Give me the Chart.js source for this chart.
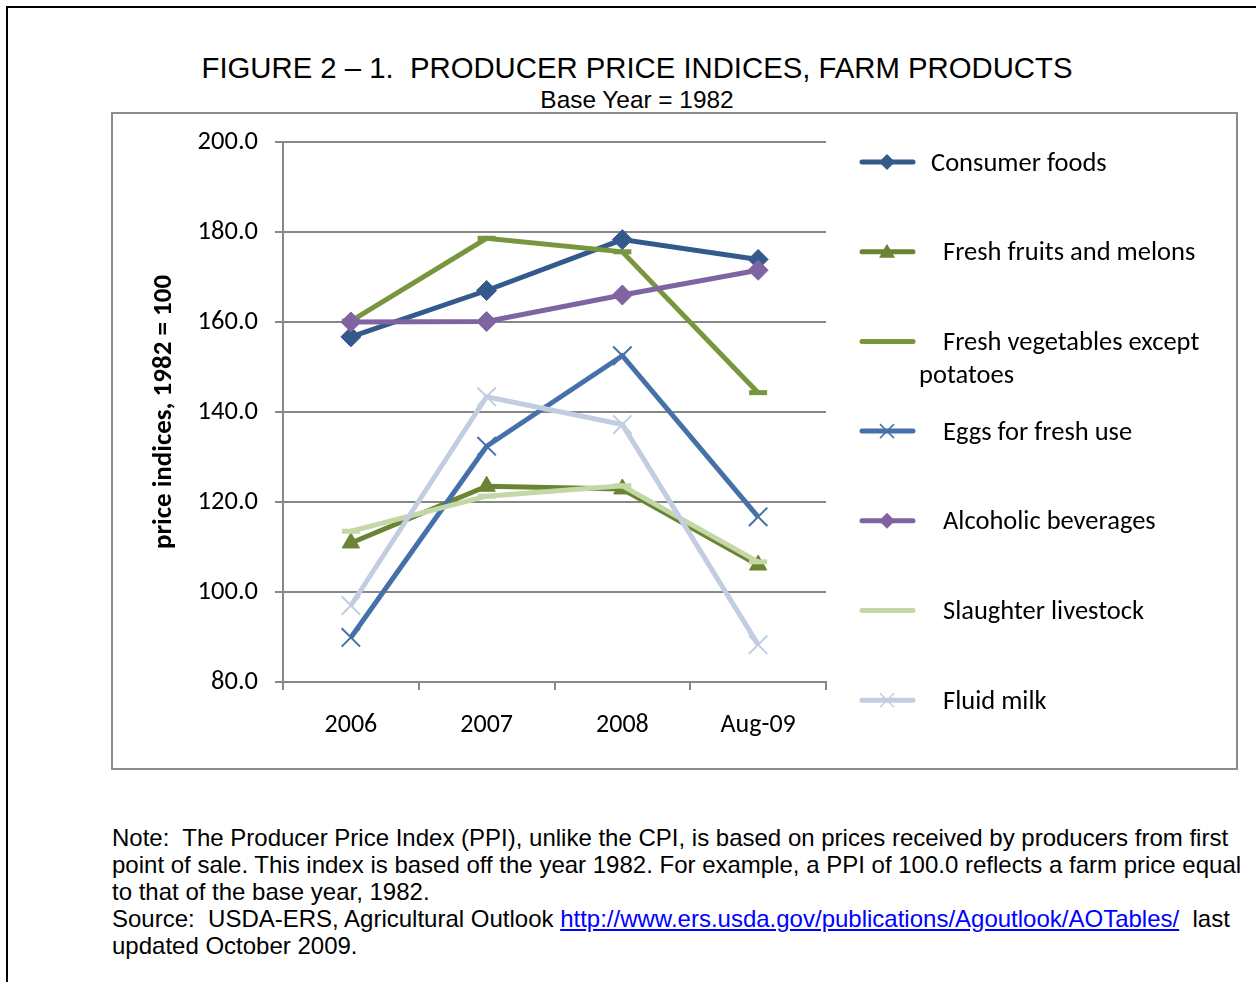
<!DOCTYPE html>
<html>
<head>
<meta charset="utf-8">
<script src="https://cdn.jsdelivr.net/npm/chart.js@4.4.1/dist/chart.umd.min.js"></script>
<style>
  html, body { margin: 0; padding: 0; background: #fff; width: 1256px; height: 982px; overflow: hidden; }
  body { position: relative; font-family: "Liberation Sans", Arial, sans-serif; color: #000; }
  #frame { position: absolute; left: 6px; top: 6px; width: 1300px; height: 1100px; border: 2px solid #000; }
  #title { position: absolute; left: 0; width: 1274px; top: 51px; text-align: center; font-size: 29.3px; line-height: 34px; white-space: pre; }
  #subtitle { position: absolute; left: 0; width: 1274px; top: 86px; text-align: center; font-size: 24.4px; line-height: 28px; }
  #box { position: absolute; left: 111px; top: 112px; width: 1123px; height: 654px; border: 2px solid #8c8c8c; }
  #chart { position: absolute; left: 112px; top: 113px; }
  #note { position: absolute; left: 112px; top: 824px; font-size: 24px; line-height: 27px; white-space: pre; }
  #note a { color: #0000ff; text-decoration: underline; }
</style>
</head>
<body>
<div id="frame"></div>
<div id="title">FIGURE 2 – 1.  PRODUCER PRICE INDICES, FARM PRODUCTS</div>
<div id="subtitle">Base Year = 1982</div>
<div id="box"></div>
<canvas id="chart" width="1124" height="655"></canvas>
<div id="note">Note:  The Producer Price Index (PPI), unlike the CPI, is based on prices received by producers from first
point of sale. This index is based off the year 1982. For example, a PPI of 100.0 reflects a farm price equal
to that of the base year, 1982.
Source:  USDA-ERS, Agricultural Outlook <a href="#">http://www.ers.usda.gov/publications/Agoutlook/AOTables/</a>  last
updated October 2009.</div>

<script>
// values
const categories = ['2006', '2007', '2008', 'Aug-09'];
const consumerFoods = [156.7, 167.0, 178.3, 173.9];
const freshFruits = [110.9, 123.5, 122.9, 106.0];
const freshVegetables = [160.2, 178.6, 175.6, 144.3];
const eggsFresh = [89.9, 132.4, 152.5, 116.7];
const alcoholicBev = [160.0, 160.1, 166.0, 171.5];
const slaughterLivestock = [113.5, 121.3, 123.6, 106.7];
const fluidMilk = [97.0, 143.4, 137.2, 88.3];
const yMin = 80, yMax = 200, yStep = 20;

const seriesNames = [
    'Consumer foods',
    'Fresh fruits and melons',
    ['Fresh vegetables except', 'potatoes'],
    'Eggs for fresh use',
    'Alcoholic beverages',
    'Slaughter livestock',
    'Fluid milk'
];

const calibri = 'Carlito, Calibri, Lato, sans-serif';

function series(i, data, color, style, radius, pointWidth, filled) {
    return {
        label: seriesNames[i],
        data: data,
        borderColor: color,
        backgroundColor: filled ? color : 'rgba(0,0,0,0)',
        borderWidth: 5,
        pointStyle: style,
        pointRadius: radius,
        pointHoverRadius: radius,
        pointBorderColor: color,
        pointBackgroundColor: color,
        pointBorderWidth: pointWidth,
        tension: 0,
        order: 10 - i
    };
}

const datasets = [
    series(0, consumerFoods, '#335a8a', 'rectRot', 10, 1, true),
    series(1, freshFruits, '#6a8434', 'triangle', 10, 1, true),
    series(2, freshVegetables, '#78963d', 'line', 9, 5, false),
    series(3, eggsFresh, '#4671a8', 'crossRot', 13, 2, false),
    series(4, alcoholicBev, '#8064a2', 'rectRot', 10, 1, true),
    series(5, slaughterLivestock, '#c4d7a6', 'line', 9, 5, false),
    series(6, fluidMilk, '#c3cde2', 'crossRot', 13, 2, false)
];

// legend drawn on the right, one item every ~90px
const sideLegend = {
    id: 'sideLegend',
    afterDraw(chart) {
        const ctx = chart.ctx;
        ctx.save();
        ctx.font = '26.5px ' + calibri;
        ctx.textBaseline = 'middle';
        chart.data.datasets.forEach((ds, i) => {
            const y = 49 + i * 89.7;
            ctx.strokeStyle = ds.borderColor;
            ctx.lineWidth = 5;
            ctx.lineCap = 'round';
            ctx.beginPath();
            ctx.moveTo(750, y);
            ctx.lineTo(801, y);
            ctx.stroke();
            drawMarker(ctx, ds, 775, y);
            const lines = Array.isArray(ds.label) ? ds.label : [ds.label];
            ctx.fillStyle = '#000';
            ctx.fillText(lines[0], i === 0 ? 819 : 831, y + 2);
            for (let k = 1; k < lines.length; k++) {
                ctx.fillText(lines[k], 807, y + 2 + 33 * k);
            }
        });
        ctx.restore();
    }
};

function drawMarker(ctx, ds, x, y) {
    const r = 8;
    ctx.save();
    ctx.fillStyle = ds.borderColor;
    ctx.strokeStyle = ds.borderColor;
    ctx.lineCap = 'butt';
    ctx.beginPath();
    if (ds.pointStyle === 'rectRot') {
        ctx.moveTo(x, y - r); ctx.lineTo(x + r, y); ctx.lineTo(x, y + r); ctx.lineTo(x - r, y);
        ctx.closePath(); ctx.fill();
    } else if (ds.pointStyle === 'triangle') {
        ctx.moveTo(x, y - 8); ctx.lineTo(x + 8, y + 6); ctx.lineTo(x - 8, y + 6);
        ctx.closePath(); ctx.fill();
    } else if (ds.pointStyle === 'crossRot') {
        ctx.lineWidth = 1.5;
        ctx.moveTo(x - 7, y - 7); ctx.lineTo(x + 7, y + 7);
        ctx.moveTo(x + 7, y - 7); ctx.lineTo(x - 7, y + 7);
        ctx.stroke();
    }
    ctx.restore();
}

const gridGray = '#878787';

new Chart(document.getElementById('chart'), {
    type: 'line',
    data: { labels: categories, datasets: datasets },
    options: {
        responsive: false,
        animation: false,
        events: [],
        layout: { padding: { left: 0, top: 29, right: 410, bottom: 26 } },
        plugins: {
            legend: { display: false },
            tooltip: { enabled: false },
            title: { display: false }
        },
        scales: {
            x: {
                offset: true,
                grid: { offset: true, drawOnChartArea: false, drawTicks: true, tickLength: 8, color: gridGray, lineWidth: 2 },
                border: { display: true, color: gridGray, width: 2 },
                ticks: { color: '#000', font: { family: calibri, size: 26 }, padding: 20, maxRotation: 0 },
                afterFit: s => { s.height = 60; }
            },
            y: {
                min: yMin,
                max: yMax,
                ticks: {
                    stepSize: yStep,
                    color: '#000',
                    font: { family: calibri, size: 26.5 },
                    padding: 17,
                    callback: v => v.toFixed(1)
                },
                grid: { color: gridGray, lineWidth: 2, tickLength: 8 },
                border: { display: true, color: gridGray, width: 2 },
                title: {
                    display: true,
                    text: 'price indices, 1982 = 100',
                    color: '#000',
                    font: { family: calibri, size: 27, weight: 'bold' },
                    padding: { top: 36, bottom: 0 }
                },
                afterFit: s => { s.width = 171; s.paddingTop = 0; s.paddingBottom = 0; }
            }
        }
    },
    plugins: [sideLegend]
});
</script>
</body>
</html>
